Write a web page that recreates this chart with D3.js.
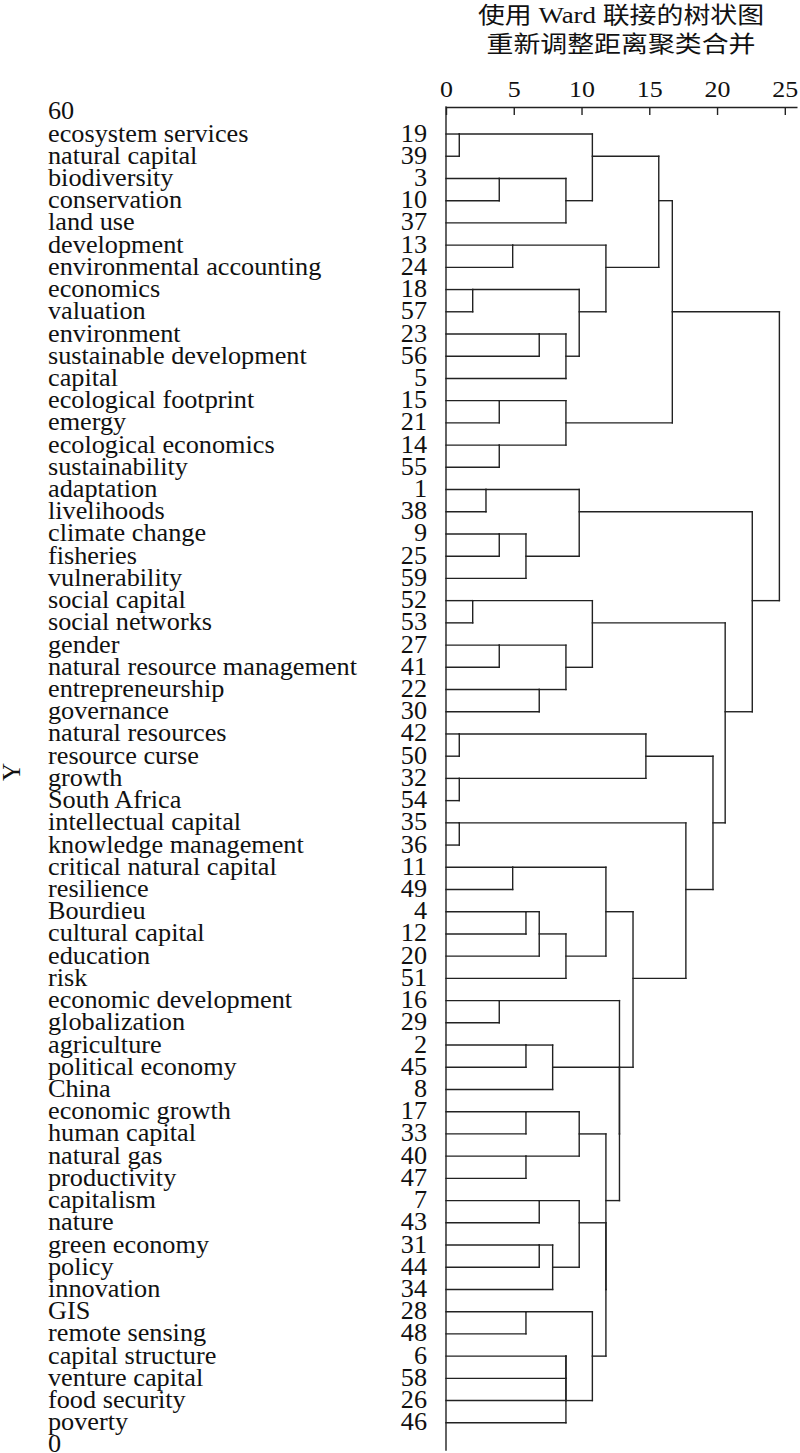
<!DOCTYPE html>
<html>
<head>
<meta charset="utf-8">
<script src="https://cdn.jsdelivr.net/npm/d3@7"></script>
<style>
  body { margin: 0; background: #fff; }
</style>
</head>
<body>
<div id="chart"></div>
<script>
// Chart title (two lines)
const titleLines = ["使用 Ward 联接的树状图", "重新调整距离聚类合并"];

// Leaf labels, top to bottom
const terms = [
  "ecosystem services", "natural capital", "biodiversity", "conservation", "land use",
  "development", "environmental accounting", "economics", "valuation", "environment",
  "sustainable development", "capital", "ecological footprint", "emergy", "ecological economics",
  "sustainability", "adaptation", "livelihoods", "climate change", "fisheries",
  "vulnerability", "social capital", "social networks", "gender", "natural resource management",
  "entrepreneurship", "governance", "natural resources", "resource curse", "growth",
  "South Africa", "intellectual capital", "knowledge management", "critical natural capital", "resilience",
  "Bourdieu", "cultural capital", "education", "risk", "economic development",
  "globalization", "agriculture", "political economy", "China", "economic growth",
  "human capital", "natural gas", "productivity", "capitalism", "nature",
  "green economy", "policy", "innovation", "GIS", "remote sensing",
  "capital structure", "venture capital", "food security", "poverty"
];

// Case numbers shown next to each leaf
const caseIds = [
  19, 39, 3, 10, 37, 13, 24, 18, 57, 23, 56, 5, 15, 21, 14, 55, 1, 38, 9, 25,
  59, 52, 53, 27, 41, 22, 30, 42, 50, 32, 54, 35, 36, 11, 49, 4, 12, 20, 51, 16,
  29, 2, 45, 8, 17, 33, 40, 47, 7, 43, 31, 44, 34, 28, 48, 6, 58, 26, 46
];

// Merges: [child a, child b, rescaled distance]; ids < 59 are leaves, 59 + k is merge k
const merges = [
  [0, 1, 0.98], [27, 28, 0.98], [29, 30, 0.98], [31, 32, 0.98],
  [7, 8, 1.97], [21, 22, 1.97], [16, 17, 2.95],
  [2, 3, 3.93], [12, 13, 3.93], [14, 15, 3.93], [18, 19, 3.93], [23, 24, 3.93], [39, 40, 3.93],
  [5, 6, 4.92], [33, 34, 4.92],
  [69, 20, 5.9], [35, 36, 5.9], [41, 42, 5.9], [44, 45, 5.9], [46, 47, 5.9], [53, 54, 5.9],
  [9, 10, 6.88], [25, 26, 6.88], [75, 37, 6.88], [48, 49, 6.88], [50, 51, 6.88],
  [76, 43, 7.87], [84, 52, 7.87],
  [66, 4, 8.85], [80, 11, 8.85], [67, 68, 8.85], [70, 81, 8.85], [82, 38, 8.85],
  [55, 56, 8.85], [92, 57, 8.85], [93, 58, 8.85],
  [63, 88, 9.83], [65, 74, 9.83], [77, 78, 9.83], [83, 86, 9.83],
  [59, 87, 10.8], [64, 90, 10.8], [79, 94, 10.8],
  [72, 95, 11.8], [73, 91, 11.8], [98, 101, 11.8], [97, 104, 11.8],
  [85, 105, 12.8], [71, 106, 12.8],
  [103, 107, 13.8],
  [60, 61, 14.75],
  [99, 102, 15.7],
  [110, 89, 16.7],
  [62, 108, 17.7],
  [109, 112, 19.7],
  [100, 113, 20.6],
  [96, 114, 22.6],
  [111, 115, 24.6]
];

// Axis tick values
const xTicks = [0, 5, 10, 15, 20, 25];
const yTicks = [60, 0];
const yLabel = "Y";

const width = 800;
const height = 1453;
const serif = "'Liberation Serif', 'Times New Roman', 'Noto Sans CJK SC', serif";
const fontSize = "25px";
const stretch = 1.05; // the original text is a bit wide
const ink = "#222";

const x = d3.scaleLinear()
    .domain([0, 25.9])
    .range([446, 797]);

const y = d3.scaleLinear()
    .domain([0, 60])
    .range([1445, 111.8]);

const svg = d3.select("#chart")
    .append("svg")
    .attr("width", width)
    .attr("height", height)
    .attr("viewBox", [0, 0, width, height])
    .style("font-family", serif);

// Title
svg.append("g")
    .selectAll("text")
    .data(titleLines)
    .join("text")
    .attr("text-anchor", "middle")
    .attr("transform", (d, i) => `translate(621,${23 + i * 28.5}) scale(1.17,1)`)
    .attr("fill", "#111")
    .style("font-size", "23px")
    .text(d => d);

// Top distance axis, ticks pointing down
const axisG = svg.append("g")
    .attr("transform", `translate(0,107)`)
    .call(d3.axisTop(x).tickValues(xTicks).tickSizeInner(-8).tickSizeOuter(0).tickPadding(10.5));

axisG.selectAll("path, line")
    .attr("stroke", ink)
    .attr("stroke-width", 1.4);
axisG.selectAll(".tick text")
    .attr("fill", "#111")
    .style("font-family", serif)
    .style("font-size", "24px")
    .attr("transform", `scale(1.08,1)`);

// Y axis label
svg.append("text")
    .attr("transform", "translate(20,772) rotate(-90)")
    .attr("text-anchor", "middle")
    .attr("fill", "#111")
    .style("font-size", fontSize)
    .text(yLabel);

// Y tick labels (60 on top, 0 at bottom)
svg.append("g")
    .selectAll("text")
    .data(yTicks)
    .join("text")
    .attr("transform", d => `translate(48,${y(d) + 7}) scale(${stretch},1)`)
    .attr("fill", "#111")
    .style("font-size", fontSize)
    .text(d => d);

const n = terms.length;
const leafY = i => y(n - i);

// Leaf names and case numbers
const labels = svg.append("g").attr("fill", "#111").style("font-size", fontSize);
labels.selectAll("text.term")
    .data(terms)
    .join("text")
    .attr("class", "term")
    .attr("transform", (d, i) => `translate(48,${leafY(i) + 7.5}) scale(${stretch},1)`)
    .text(d => d);
labels.selectAll("text.case")
    .data(caseIds)
    .join("text")
    .attr("class", "case")
    .attr("text-anchor", "end")
    .attr("transform", (d, i) => `translate(427,${leafY(i) + 7.5}) scale(${stretch},1)`)
    .text(d => d);

// Work out row + height of every node (SPSS puts a cluster on the lower-middle row)
const rowOf = [];
const distOf = [];
terms.forEach((t, i) => { rowOf[i] = i; distOf[i] = 0; });
merges.forEach(([a, b, dist], k) => {
    rowOf[n + k] = Math.floor((rowOf[a] + rowOf[b]) / 2);
    distOf[n + k] = dist;
});

const segs = [];
merges.forEach(([a, b, dist]) => {
    [a, b].forEach(c => {
        segs.push([x(distOf[c]), leafY(rowOf[c]), x(dist), leafY(rowOf[c])]);
    });
    segs.push([x(dist), leafY(rowOf[a]), x(dist), leafY(rowOf[b])]);
});

const tree = svg.append("g")
    .attr("stroke", ink)
    .attr("stroke-width", 1.4)
    .attr("stroke-linecap", "square");

tree.selectAll("line")
    .data(segs)
    .join("line")
    .attr("x1", d => d[0])
    .attr("y1", d => d[1])
    .attr("x2", d => d[2])
    .attr("y2", d => d[3]);

// baseline at distance 0
tree.append("line")
    .attr("x1", x(0))
    .attr("x2", x(0))
    .attr("y1", 107)
    .attr("y2", y(0) + 5);
</script>
</body>
</html>
